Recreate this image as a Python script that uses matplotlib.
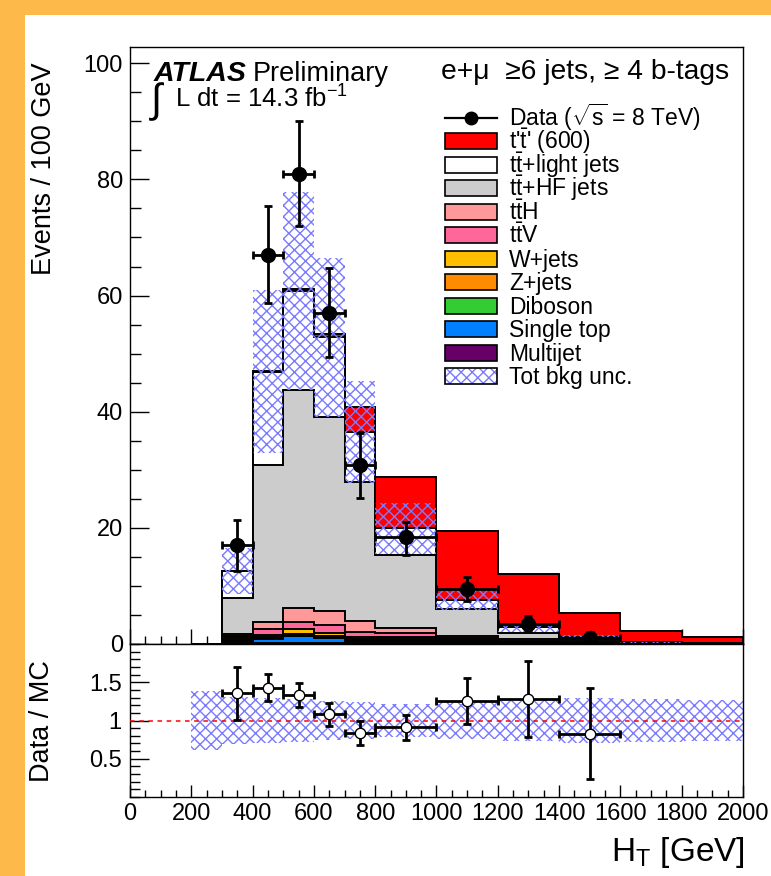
import numpy as np
import matplotlib
matplotlib.use('Agg')
from matplotlib import pyplot as plt
from matplotlib.patches import Rectangle
from matplotlib.lines import Line2D
from matplotlib.ticker import MultipleLocator, FixedLocator

plt.rcParams['font.family'] = ['Liberation Sans', 'DejaVu Sans']
plt.rcParams['mathtext.fontset'] = 'custom'
plt.rcParams['mathtext.rm'] = 'Liberation Sans'
plt.rcParams['mathtext.it'] = 'Liberation Sans:italic'
plt.rcParams['mathtext.bf'] = 'Liberation Sans:bold'
plt.rcParams['hatch.linewidth'] = 1.0

# H_T bin edges (GeV), contents are events / 100 GeV
edges = [200, 300, 400, 500, 600, 700, 800, 1000, 1200, 1400, 1600, 1800, 2000]

multijet = [0, 0.1, 0.1, 0.1, 0.1, 0.1, 0.1, 0.1, 0.05, 0.02, 0, 0]
single_top = [0, 0.4, 0.7, 1.3, 0.9, 0.5, 0.4, 0.2, 0.1, 0.05, 0.02, 0.01]
diboson = [0, 0.02, 0.05, 0.05, 0.05, 0.03, 0.02, 0.02, 0.01, 0, 0, 0]
zjets = [0, 0.15, 0.3, 0.2, 0.3, 0.3, 0.4, 0.2, 0.1, 0.05, 0.01, 0]
wjets = [0, 0.4, 0.45, 0.9, 0.55, 0.3, 0.3, 0.2, 0.1, 0.05, 0.02, 0]
ttv = [0, 0.3, 0.9, 1.3, 1.3, 0.8, 0.6, 0.3, 0.2, 0.05, 0.02, 0.01]
tth = [0, 0.3, 1.3, 2.3, 2.5, 2.0, 0.9, 0.3, 0.3, 0.08, 0.02, 0.01]
tthf = [0, 6.2, 27.1, 37.6, 33.4, 23.8, 12.6, 4.7, 1.0, 0.4, 0.12, 0.08]
ttlight = [0.05, 4.7, 16.0, 17.0, 13.7, 8.7, 4.6, 1.6, 1.0, 0.5, 0.1, 0.09]
signal = [0, 0, 0.1, 0.4, 0.5, 4.2, 8.8, 11.8, 9.2, 4.1, 1.9, 1.06]
bkg_rel_unc = [0.39, 0.31, 0.30, 0.28, 0.26, 0.24, 0.22, 0.24, 0.265, 0.30, 0.28, 0.27]

data_x = [350, 450, 550, 650, 750, 900, 1100, 1300, 1500]
data_xerr = [50, 50, 50, 50, 50, 100, 100, 100, 100]
data_y = [17, 67, 81, 57, 30.8, 18.4, 9.4, 3.5, 1.0]
data_err_up = [4.3, 8.4, 9.0, 7.8, 5.5, 2.6, 2.1, 1.4, 1.0]
data_err_dn = [4.4, 8.2, 9.0, 7.5, 5.7, 3.0, 2.0, 1.3, 0.7]

ratio_y = [1.36, 1.43, 1.33, 1.09, 0.84, 0.92, 1.25, 1.28, 0.83]
ratio_err_up = [0.34, 0.18, 0.16, 0.14, 0.15, 0.15, 0.30, 0.50, 0.60]
ratio_err_dn = [0.35, 0.18, 0.16, 0.16, 0.16, 0.17, 0.29, 0.50, 0.60]

# stack from bottom to top
layers = [
    (multijet, '#660066', 'Multijet'),
    (single_top, '#0080ff', 'Single top'),
    (diboson, '#33cc33', 'Diboson'),
    (zjets, '#ff8c00', 'Z+jets'),
    (wjets, '#ffbf00', 'W+jets'),
    (ttv, '#ff6699', r't$\bar{\mathrm{t}}$V'),
    (tth, '#ff9999', r't$\bar{\mathrm{t}}$H'),
    (tthf, '#cccccc', r't$\bar{\mathrm{t}}$+HF jets'),
    (ttlight, '#ffffff', r't$\bar{\mathrm{t}}$+light jets'),
    (signal, '#ff0000', r"t'$\bar{\mathrm{t}}$' (600)"),
]
hatch_col = '#7a7aff'
hatch = 'xxx'

W, H = 771, 876
fig = plt.figure(figsize=(W / 100, H / 100), dpi=100, facecolor='#fdb94a')
fig.patches.append(Rectangle((25 / W, 0), 1 - 25 / W, 1 - 15 / H, transform=fig.transFigure,
                             facecolor='white', edgecolor='none', zorder=-10))

ax = fig.add_axes([130 / W, 1 - 644 / H, 613 / W, 597 / H])
rax = fig.add_axes([130 / W, 1 - 797 / H, 613 / W, 153 / H], sharex=ax)

# stacked histograms, ROOT style: each cumulative drawn from zero, top first
cum = np.cumsum(np.array([l[0] for l in layers], dtype=float), axis=0)
for i in range(len(layers) - 1, -1, -1):
    ax.stairs(cum[i], edges, baseline=0, fill=True, facecolor=layers[i][1],
              edgecolor='black', lw=1.4, zorder=2)

bkg = cum[-2]
rel = np.array(bkg_rel_unc)
ax.stairs(bkg * (1 + rel), edges, baseline=bkg * (1 - rel), fill=True, facecolor='none',
          edgecolor=hatch_col, hatch=hatch, lw=0, zorder=3)

ax.errorbar(data_x, data_y, yerr=[data_err_dn, data_err_up], xerr=data_xerr, fmt='o',
            color='black', ms=10, elinewidth=2, capsize=3, capthick=2, zorder=5)

ax.set_xlim(0, 2000)
ax.set_ylim(0, 102.8)
ax.yaxis.set_major_locator(MultipleLocator(20))
ax.yaxis.set_minor_locator(MultipleLocator(5))
ax.xaxis.set_major_locator(MultipleLocator(200))
ax.xaxis.set_minor_locator(MultipleLocator(50))
ax.tick_params(axis='both', which='both', direction='in', top=False, right=False,
               labelsize=17, width=1)
ax.tick_params(axis='y', which='major', length=14, pad=5)
ax.tick_params(axis='y', which='minor', length=8)
ax.tick_params(axis='x', which='major', length=11)
ax.tick_params(axis='x', which='minor', length=6)
ax.tick_params(axis='x', labelbottom=False)

# ratio panel
rax.stairs(1 + rel, edges, baseline=1 - rel, fill=True, facecolor='none',
           edgecolor=hatch_col, hatch=hatch, lw=0, zorder=2)
rax.axhline(1, color='red', ls=(0, (3, 3)), lw=1.1, zorder=3)
rax.errorbar(data_x, ratio_y, yerr=[ratio_err_dn, ratio_err_up], xerr=data_xerr, fmt='o',
             color='black', mfc='white', mec='black', ms=7.5, elinewidth=2, capsize=3,
             capthick=2, zorder=5)
rax.set_ylim(0, 2)
rax.yaxis.set_major_locator(FixedLocator([0.5, 1, 1.5]))
rax.yaxis.set_minor_locator(MultipleLocator(0.1))
rax.set_yticklabels(['0.5', '1', '1.5'])
rax.tick_params(axis='both', which='both', direction='in', top=False, right=False,
                labelsize=17, width=1)
rax.tick_params(axis='y', which='major', length=14, pad=6)
rax.tick_params(axis='y', which='minor', length=7)
rax.tick_params(axis='x', which='major', length=9, pad=4)
rax.tick_params(axis='x', which='minor', length=5)
rax.set_xticks(range(0, 2001, 200))

for a in (ax, rax):
    for s in a.spines.values():
        s.set_linewidth(1.0)

# labels
fig.text(44 / W, 1 - 62 / H, 'Events / 100 GeV', rotation=90, ha='center', va='top', fontsize=19.5)
fig.text(42 / W, 1 - 721 / H, 'Data / MC', rotation=90, ha='center', va='center', fontsize=19.5)
fig.text(745 / W, 1 - 852 / H, r'H$_{\mathrm{T}}$ [GeV]', ha='right', va='center', fontsize=24)

fig.text(154 / W, 1 - 74 / H, 'ATLAS', fontsize=20.5, weight='bold', style='italic',
         va='center', ha='left')
fig.text(253 / W, 1 - 74 / H, 'Preliminary', fontsize=19.5, va='center', ha='left')
fig.text(151 / W, 1 - 102 / H, '\u222b', fontsize=29, va='center', ha='left')
fig.text(175 / W, 1 - 99 / H, r'L dt = 14.3 fb$^{\mathregular{-1}}$', fontsize=18.5,
         va='center', ha='left')
fig.text(729 / W, 1 - 72 / H, 'e+\u03bc  \u22656 jets, \u2265 4 b-tags', fontsize=20.3,
         va='center', ha='right')

# legend, placed by hand in figure pixels like the ROOT TLegend
leg_x0, leg_w, leg_h = 445, 52, 16
leg_y0, leg_dy = 118, 23.45
leg_fs = 16.5


def fx(px):
    return px / W


def fy(py):
    return 1 - py / H


fig.add_artist(Line2D([fx(leg_x0), fx(leg_x0 + leg_w)], [fy(leg_y0), fy(leg_y0)],
                      color='black', lw=1.6, transform=fig.transFigure))
fig.add_artist(Line2D([fx(leg_x0 + leg_w / 2)], [fy(leg_y0)], marker='o', ms=9,
                      color='black', transform=fig.transFigure))
fig.text(fx(509), fy(leg_y0 + 8), r'Data ($\sqrt{\mathrm{s}}$ = 8 TeV)', fontsize=leg_fs,
         va='baseline', ha='left')

legend_order = [9, 8, 7, 6, 5, 4, 3, 2, 1, 0]
for k, i in enumerate(legend_order):
    yc = leg_y0 + (k + 1) * leg_dy
    fig.add_artist(Rectangle((fx(leg_x0), fy(yc + leg_h / 2)), leg_w / W, leg_h / H,
                             transform=fig.transFigure, facecolor=layers[i][1],
                             edgecolor='black', lw=1.2))
    fig.text(fx(509), fy(yc + 8), layers[i][2], fontsize=leg_fs, va='baseline', ha='left')

yc = leg_y0 + 11 * leg_dy
fig.add_artist(Rectangle((fx(leg_x0), fy(yc + leg_h / 2)), leg_w / W, leg_h / H,
                         transform=fig.transFigure, facecolor='white', edgecolor=hatch_col,
                         hatch=hatch, lw=0))
fig.add_artist(Rectangle((fx(leg_x0), fy(yc + leg_h / 2)), leg_w / W, leg_h / H,
                         transform=fig.transFigure, facecolor='none', edgecolor='black', lw=1.2))
fig.text(fx(509), fy(yc + 8), 'Tot bkg unc.', fontsize=leg_fs, va='baseline', ha='left')

fig.savefig('out.png', dpi=100, facecolor=fig.get_facecolor())
